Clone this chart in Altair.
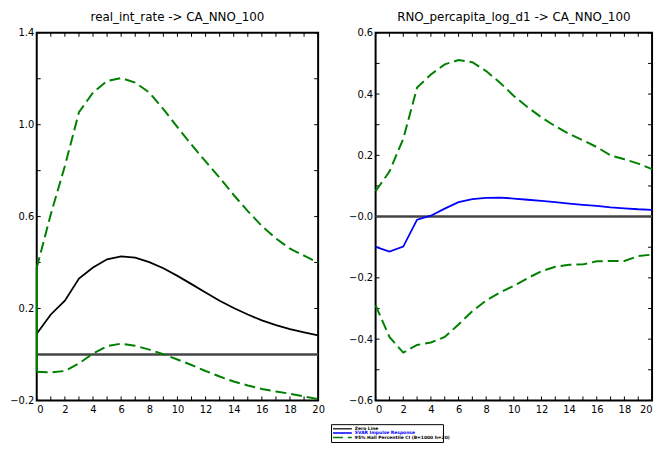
import altair as alt
import pandas as pd

steps = list(range(21))

left_title = "real_int_rate -> CA_NNO_100"
right_title = "RNO_percapita_log_d1 -> CA_NNO_100"

# left panel: real_int_rate -> CA_NNO_100
left_irf = [0.090, 0.174, 0.234, 0.330, 0.378, 0.414, 0.427, 0.421, 0.402, 0.375, 0.342,
            0.306, 0.270, 0.234, 0.202, 0.174, 0.148, 0.128, 0.110, 0.096, 0.083]
left_lo = [-0.075, -0.078, -0.072, -0.039, 0.004, 0.036, 0.047, 0.038, 0.021, 0.001, -0.022,
           -0.046, -0.072, -0.096, -0.118, -0.135, -0.150, -0.161, -0.171, -0.183, -0.194]
left_hi = [0.377, 0.610, 0.820, 1.054, 1.140, 1.190, 1.203, 1.183, 1.140, 1.068, 0.989,
           0.913, 0.840, 0.769, 0.694, 0.624, 0.559, 0.505, 0.460, 0.430, 0.399]

# right panel: RNO_percapita_log_d1 -> CA_NNO_100
right_irf = [-0.099, -0.114, -0.098, -0.010, 0.003, 0.026, 0.047, 0.057, 0.061, 0.062, 0.059,
             0.055, 0.051, 0.047, 0.042, 0.038, 0.035, 0.030, 0.027, 0.024, 0.022]
right_lo = [-0.290, -0.393, -0.444, -0.419, -0.411, -0.393, -0.352, -0.309, -0.274, -0.248, -0.226,
            -0.201, -0.178, -0.164, -0.157, -0.156, -0.146, -0.145, -0.145, -0.129, -0.124]
right_hi = [0.083, 0.147, 0.254, 0.421, 0.464, 0.497, 0.511, 0.504, 0.475, 0.437, 0.394,
            0.357, 0.324, 0.295, 0.270, 0.249, 0.227, 0.200, 0.187, 0.173, 0.155]

zero_line = [0.0] * 21

x_labels = [0, 2, 4, 6, 8, 10, 12, 14, 16, 18, 20]
x_ticks = list(range(21))
left_y_labels = [-0.2, 0.2, 0.6, 1.0, 1.4]
left_y_ticks = [-0.2, 0.0, 0.2, 0.4, 0.6, 0.8, 1.0, 1.2, 1.4]
right_y_labels = [-0.6, -0.4, -0.2, 0.0, 0.2, 0.4, 0.6]
right_y_ticks = [-0.6, -0.5, -0.4, -0.3, -0.2, -0.1, 0.0, 0.1, 0.2, 0.3, 0.4, 0.5, 0.6]

legend_labels = ["Zero Line", "SVAR Impulse Response", "95% Hall Percentile CI (B=1000 h=20)"]
legend_line_colors = ["#333333", "#0000ff", "#008000"]
legend_text_colors = ["#000000", "#0000ff", "#000000"]
legend_dashes = [[1, 0], [1, 0], [10, 5]]

H = 371
LEG_H = 18
GREEN = "#008000"
DASH = [11, 5]
FONT = "DejaVu Sans"


def panel(title, irf, lo, hi, irf_color, W, y_domain, y_labels, y_ticks, label_expr, vbar, x_align):
    xs = alt.Scale(domain=[0, 20], nice=False, zero=False)
    ys = alt.Scale(domain=y_domain, nice=False, zero=False)
    xa = alt.Axis(values=x_labels, format="d", labelPadding=4, labelAlign=x_align)
    ya = alt.Axis(values=y_labels, labelExpr=label_expr, labelPadding=3)

    def X(f):
        return alt.X(f, type="quantitative", scale=xs, axis=xa, title=None)

    def Y(f):
        return alt.Y(f, type="quantitative", scale=ys, axis=ya, title=None)

    df = pd.DataFrame({"step": steps, "irf": irf, "lo": lo, "hi": hi, "zero": zero_line})
    base = alt.Chart(df)
    xt = alt.Chart(pd.DataFrame({"step": x_ticks}))
    yt = alt.Chart(pd.DataFrame({"t": y_ticks}))

    layers = [
        xt.mark_rule(color="black", strokeWidth=1).encode(x=X("step"), y=alt.value(H), y2=alt.value(H - 4)),
        xt.mark_rule(color="black", strokeWidth=1).encode(x=X("step"), y=alt.value(0), y2=alt.value(4)),
        yt.mark_rule(color="black", strokeWidth=1).encode(y=Y("t"), x=alt.value(0), x2=alt.value(4)),
        yt.mark_rule(color="black", strokeWidth=1).encode(y=Y("t"), x=alt.value(W - 4), x2=alt.value(W)),
        base.mark_line(color="#444444", strokeWidth=2.5).encode(x=X("step"), y=Y("zero")),
        base.mark_line(color=GREEN, strokeWidth=2, strokeDash=DASH).encode(x=X("step"), y=Y("hi")),
        base.mark_line(color=GREEN, strokeWidth=2, strokeDash=DASH).encode(x=X("step"), y=Y("lo")),
        base.mark_line(color=irf_color, strokeWidth=1.8).encode(x=X("step"), y=Y("irf")),
    ]
    if vbar:
        vb = pd.DataFrame({"step": [steps[0]], "lo": [lo[0]], "hi": [hi[0]]})
        layers.append(
            alt.Chart(vb).mark_rule(color=GREEN, strokeWidth=2).encode(x=X("step"), y=Y("lo"), y2="hi")
        )
    layers.append(
        alt.Chart(pd.DataFrame({"title": [title]})).mark_text(
            align="center", baseline="top", fontSize=12, font=FONT, color="black"
        ).encode(text="title:N", x=alt.value(W / 2), y=alt.value(-21))
    )
    return alt.layer(*layers).properties(
        width=W,
        height=H,
        view=alt.ViewBackground(stroke="black", strokeWidth=2),
    )


left = panel(left_title, left_irf, left_lo, left_hi, "black", 284,
             [-0.2, 1.4], left_y_labels, left_y_ticks, "format(datum.value, '.1f')", True,
             {"condition": {"test": "datum.value == 0", "value": "left"}, "value": "center"})
right = panel(right_title, right_irf, right_lo, right_hi, "#0000ff", 279,
              [-0.6, 0.6], right_y_labels, right_y_ticks,
              "datum.value == 0 ? '\u22120.0' : format(datum.value, '.1f')", False,
              {"condition": [{"test": "datum.value == 0", "value": "left"},
                             {"test": "datum.value == 20", "value": "right"}], "value": "center"})

leg_df = pd.DataFrame({"label": legend_labels, "lcolor": legend_line_colors, "tcolor": legend_text_colors})
ly = alt.Y("label:N", scale=alt.Scale(type="point", domain=legend_labels, padding=1.1), axis=None)
leg_rule = alt.Chart(leg_df).mark_rule(strokeWidth=1.5).encode(
    y=ly, x=alt.value(2), x2=alt.value(21),
    color=alt.Color("lcolor:N", scale=None),
    strokeDash=alt.StrokeDash("label:N", scale=alt.Scale(domain=legend_labels, range=legend_dashes), legend=None),
)
leg_text = alt.Chart(leg_df).mark_text(align="left", baseline="middle", fontSize=4.5, fontWeight="bold", font=FONT).encode(
    y=ly, x=alt.value(24), text="label:N", color=alt.Color("tcolor:N", scale=None)
)
legend = alt.layer(leg_rule, leg_text).resolve_scale(color="independent").properties(
    width=113, height=LEG_H, view=alt.ViewBackground(stroke="black", strokeWidth=1)
)
spacer = alt.Chart(leg_df).mark_point(opacity=0, size=1).encode(
    x=alt.value(1), y=alt.value(LEG_H / 2)
).properties(
    width=1, height=LEG_H, view=alt.ViewBackground(stroke="transparent")
)

top = alt.hconcat(left, right, spacing=21)
bottom = alt.hconcat(spacer, legend, spacing=294)
chart = alt.vconcat(top, bottom, spacing=8).properties(
    padding={"left": 0, "top": 0, "right": 0, "bottom": 0}
).configure_axis(
    domain=False, ticks=False, grid=False, labelFont=FONT, labelFontSize=10, labelColor="black"
).configure_view(stroke="transparent")

chart.save("out.html", embed_options={"renderer": "svg", "actions": False})
